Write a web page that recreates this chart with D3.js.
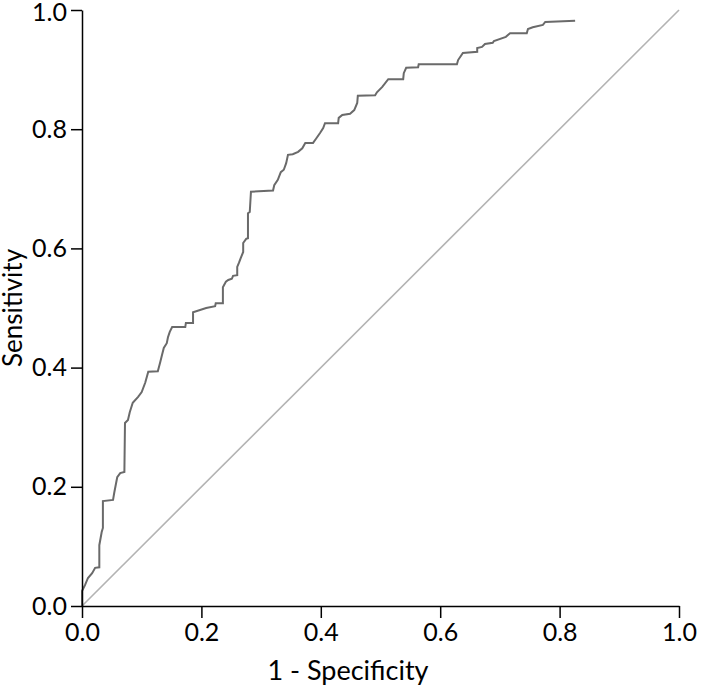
<!DOCTYPE html>
<html>
<head>
<meta charset="utf-8">
<script src="https://cdn.jsdelivr.net/npm/d3@7/dist/d3.min.js"></script>
<style>
  html, body { margin: 0; padding: 0; background: #fff; }
  svg { display: block; }
  text { font-family: Lato, "Open Sans", sans-serif; fill: #000; }
</style>
</head>
<body>
<svg id="chart" width="706" height="695"></svg>
<script>
// ROC curve: 1 - specificity (fpr) and sensitivity (tpr)
const fpr = [0, 0, 0.005, 0.010, 0.017, 0.022, 0.029, 0.029, 0.033, 0.035, 0.035, 0.052, 0.054, 0.059, 0.064, 0.071,
  0.072, 0.077, 0.080, 0.085, 0.094, 0.100, 0.106, 0.111, 0.127, 0.131, 0.134, 0.137, 0.142, 0.144, 0.147, 0.151,
  0.173, 0.174, 0.186, 0.186, 0.208, 0.223, 0.224, 0.236, 0.236, 0.241, 0.245, 0.251, 0.253, 0.260, 0.260, 0.263,
  0.266, 0.270, 0.270, 0.275, 0.278, 0.278, 0.281, 0.283, 0.320, 0.322, 0.328, 0.333, 0.338, 0.342, 0.345, 0.353,
  0.362, 0.369, 0.374, 0.387, 0.392, 0.399, 0.404, 0.407, 0.429, 0.430, 0.436, 0.449, 0.456, 0.461, 0.462, 0.491,
  0.494, 0.503, 0.513, 0.538, 0.539, 0.543, 0.563, 0.564, 0.628, 0.630, 0.638, 0.662, 0.662, 0.670, 0.675, 0.688,
  0.690, 0.710, 0.717, 0.745, 0.747, 0.755, 0.772, 0.776, 0.826];
const tpr = [0, 0.025, 0.035, 0.047, 0.055, 0.064, 0.065, 0.102, 0.124, 0.131, 0.176, 0.178, 0.190, 0.216, 0.223, 0.225,
  0.307, 0.312, 0.325, 0.341, 0.351, 0.359, 0.375, 0.393, 0.394, 0.409, 0.421, 0.433, 0.441, 0.451, 0.460, 0.468,
  0.468, 0.475, 0.475, 0.493, 0.500, 0.503, 0.508, 0.508, 0.535, 0.544, 0.547, 0.549, 0.554, 0.555, 0.569, 0.576,
  0.584, 0.594, 0.609, 0.616, 0.617, 0.659, 0.661, 0.695, 0.697, 0.706, 0.715, 0.728, 0.732, 0.743, 0.757, 0.758,
  0.762, 0.768, 0.777, 0.777, 0.784, 0.794, 0.802, 0.810, 0.810, 0.819, 0.824, 0.826, 0.832, 0.844, 0.856, 0.857,
  0.862, 0.871, 0.884, 0.884, 0.894, 0.903, 0.904, 0.909, 0.909, 0.916, 0.928, 0.930, 0.936, 0.938, 0.943, 0.945,
  0.948, 0.955, 0.961, 0.961, 0.968, 0.971, 0.975, 0.980, 0.982];
const diagonal = [0, 1];
const tickValues = [0, 0.2, 0.4, 0.6, 0.8, 1.0];
const tickLabels = ["0.0", "0.2", "0.4", "0.6", "0.8", "1.0"];
const xTitle = "1 - Specificity";
const yTitle = "Sensitivity";

const svg = d3.select("#chart");
const x = d3.scaleLinear().domain([0, 1]).range([82, 679]);
const y = d3.scaleLinear().domain([0, 1]).range([606, 10]);

// Diagonal reference line
svg.append("line")
  .attr("x1", x(diagonal[0])).attr("y1", y(diagonal[0]))
  .attr("x2", x(diagonal[1])).attr("y2", y(diagonal[1]))
  .attr("stroke", "#b3b3b3").attr("stroke-width", 1.6);

// ROC curve
const pts = fpr.map((v, i) => [v, tpr[i]]);
svg.append("path")
  .datum(pts)
  .attr("fill", "none")
  .attr("stroke", "#6a6a6a")
  .attr("stroke-width", 2)
  .attr("stroke-linejoin", "miter")
  .attr("d", d3.line().x(d => x(d[0])).y(d => y(d[1])));

// Axes
const fmt = (d) => tickLabels[tickValues.indexOf(d)];
const xAxis = svg.append("g").attr("transform", `translate(0,${y(0)})`)
  .call(d3.axisBottom(x).tickValues(tickValues).tickFormat(fmt).tickSize(12).tickPadding(5).tickSizeOuter(0));
const yAxis = svg.append("g").attr("transform", `translate(${x(0)},0)`)
  .call(d3.axisLeft(y).tickValues(tickValues).tickFormat(fmt).tickSize(11).tickPadding(4).tickSizeOuter(0));

[xAxis, yAxis].forEach(g => {
  g.select(".domain").attr("stroke", "#000").attr("stroke-width", 1.5);
  g.selectAll(".tick line").attr("stroke", "#000").attr("stroke-width", 1.5);
  g.selectAll(".tick text").attr("font-size", 25).attr("font-family", "Lato, sans-serif").attr("fill", "#000");
});
// keep the top label fully inside the picture
yAxis.selectAll(".tick text").filter(d => d === 1).attr("dy", "0.42em");

// Axis titles
svg.append("text")
  .attr("x", 348).attr("y", 680)
  .attr("text-anchor", "middle")
  .attr("font-size", 27)
  .text(xTitle);

svg.append("text")
  .attr("transform", `translate(22,${(y(0) + y(1)) / 2}) rotate(-90)`)
  .attr("text-anchor", "middle")
  .attr("font-size", 26)
  .text(yTitle);
</script>
</body>
</html>
